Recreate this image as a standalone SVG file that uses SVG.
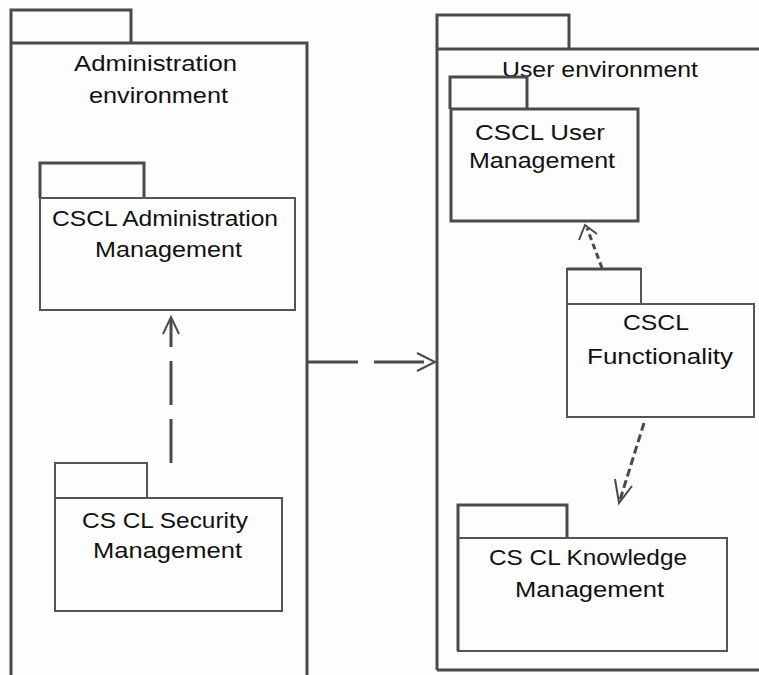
<svg xmlns="http://www.w3.org/2000/svg" width="759" height="675" viewBox="0 0 759 675">
<style>
  .thick{fill:none;stroke:#4a4a4a;stroke-width:3}
  .thin{fill:none;stroke:#555;stroke-width:2}
  .lbl{font-family:"Liberation Sans",Arial,sans-serif;font-size:22px;fill:#111;text-anchor:start}
  .conn{fill:none;stroke:#4a4a4a;stroke-width:3}
  .head{fill:none;stroke:#4a4a4a;stroke-width:2}
</style>
<rect width="759" height="675" fill="#fdfdfd"/>
<g id="admin-env">
  <path class="thick" d="M11,676 V10 H131 V43"/>
  <path class="thick" d="M11,43 H307 V676"/>
  <text class="lbl" x="74" y="71" textLength="163" lengthAdjust="spacingAndGlyphs">Administration</text>
  <text class="lbl" x="89" y="103" textLength="139" lengthAdjust="spacingAndGlyphs">environment</text>
</g>
<g id="admin-mgmt">
  <path class="thick" d="M40,198 V163 H144 V198"/>
  <rect class="thin" x="40" y="198" width="255" height="112"/>
  <text class="lbl" x="52" y="226" textLength="226" lengthAdjust="spacingAndGlyphs">CSCL Administration</text>
  <text class="lbl" x="95" y="257" textLength="147" lengthAdjust="spacingAndGlyphs">Management</text>
</g>
<g id="security-mgmt">
  <path class="thin" d="M55,498 V463 H147 V498"/>
  <rect class="thin" x="55" y="498" width="227" height="113"/>
  <text class="lbl" x="82" y="528" textLength="166" lengthAdjust="spacingAndGlyphs">CS CL  Security</text>
  <text class="lbl" x="93" y="558" textLength="149" lengthAdjust="spacingAndGlyphs">Management</text>
</g>
<g id="user-env">
  <path class="thick" d="M437,670 V15 H569 V49"/>
  <path class="thick" d="M437,49 H760"/>
  <path class="thick" d="M437,670 H760"/>
  <text class="lbl" x="502" y="77" textLength="196" lengthAdjust="spacingAndGlyphs">User environment</text>
</g>
<g id="user-mgmt">
  <path class="thick" d="M450,109 V77 H527 V109"/>
  <rect class="thick" x="451" y="109" width="187" height="112"/>
  <text class="lbl" x="475" y="140" textLength="130" lengthAdjust="spacingAndGlyphs">CSCL User</text>
  <text class="lbl" x="469" y="168" textLength="146" lengthAdjust="spacingAndGlyphs">Management</text>
</g>
<g id="functionality">
  <path class="thin" d="M567,304 V269 H641 V304"/>
  <path class="thick" d="M567,269 H641"/>
  <rect class="thin" x="567" y="304" width="187" height="113"/>
  <text class="lbl" x="623" y="330" textLength="66" lengthAdjust="spacingAndGlyphs">CSCL</text>
  <text class="lbl" x="587" y="364" textLength="146" lengthAdjust="spacingAndGlyphs">Functionality</text>
</g>
<g id="knowledge-mgmt">
  <path class="thick" d="M458,538 V505 H567 V538"/>
  <rect class="thin" x="458" y="538" width="269" height="113"/>
  <path class="thick" d="M458,538 V651"/>
  <text class="lbl" x="489" y="565" textLength="198" lengthAdjust="spacingAndGlyphs">CS CL  Knowledge</text>
  <text class="lbl" x="515" y="597" textLength="149" lengthAdjust="spacingAndGlyphs">Management</text>
</g>
<g id="connectors">
  <path class="conn" d="M171,463 V320" stroke-dasharray="44 14"/>
  <path class="head" d="M163,334 L171,317 L179,334"/>
  <path class="conn" d="M308,362 H435" stroke-dasharray="50 16"/>
  <path class="head" d="M417,353 L435,362 L417,371"/>
  <path class="conn" d="M602,268 L587,228" stroke-dasharray="6 4" stroke-width="2"/>
  <path class="head" d="M579,240 L585,225 L597,234"/>
  <path class="conn" d="M644,423 L620,500" stroke-dasharray="8 4" stroke-width="2"/>
  <path class="head" d="M615,479 L619,503 L632,486"/>
</g>
</svg>
